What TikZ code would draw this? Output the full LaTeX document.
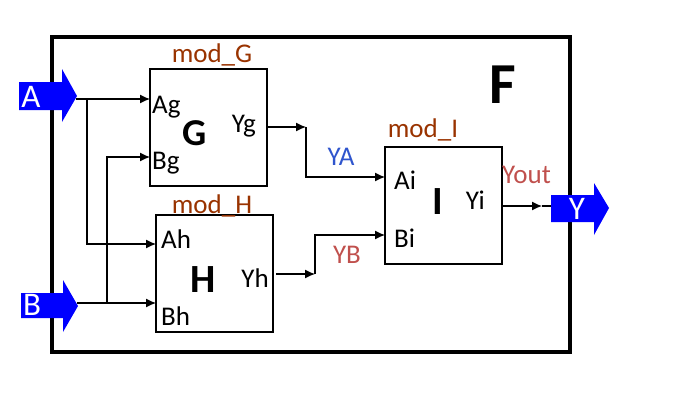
\documentclass[tikz,border=0pt]{standalone}
\usepackage{fontspec}
\setmainfont{Carlito}
\usetikzlibrary{arrows.meta}
\definecolor{modbrown}{RGB}{153,51,0}
\definecolor{sigblue}{RGB}{47,85,205}
\definecolor{sigred}{RGB}{192,80,77}
\definecolor{portblue}{RGB}{0,0,255}
\tikzstyle{module} = [rectangle, minimum width=117pt, minimum height=117pt, draw=black, line width=1.2, inner sep=0]
\tikzstyle{wire} = [draw=black, line width=1.2, -{Latex[length=10pt, width=9pt]}]
\tikzstyle{pinlabel} = [inner sep=0, font=\fontsize{27pt}{30pt}\selectfont]
\tikzstyle{modname} = [pinlabel, text=modbrown, anchor=base]
\tikzstyle{bigname} = [inner sep=0, anchor=base, font=\fontsize{40pt}{44pt}\selectfont\bfseries]
\tikzstyle{portshape} = [fill=portblue, draw=none]
\tikzstyle{portname} = [inner sep=0, text=white, font=\fontsize{33pt}{36pt}\selectfont]

\begin{document}
\begin{tikzpicture}[x=1pt, y=-1pt]
\useasboundingbox (0,0) rectangle (673,400);
\node (modF) [rectangle, draw=black, line width=3.5, minimum width=518pt, minimum height=315pt] at (311,194.5) {};
\node (nameF) [bigname, font=\fontsize{58pt}{60pt}\selectfont\bfseries] at (503,103) {F};

\node (modG) [module] at (208.5,127.5) {};
\node (modH) [module] at (214.5,273.5) {};
\node (modI) [module] at (443.5,205.5) {};

\node (titleG) [modname] at (212,62) {mod\_G};
\node (titleH) [modname] at (212,213) {mod\_H};
\node (titleI) [modname] at (423,137) {mod\_I};

\node (nameG) [bigname, font=\fontsize{38pt}{40pt}\selectfont\bfseries] at (195,145) {G};
\node (nameH) [bigname] at (203,292) {H};
\node (nameI) [bigname] at (438,214) {I};

\node (lblAg) [pinlabel, anchor=base west] at (152,113) {Ag};
\node (lblBg) [pinlabel, anchor=base west] at (152,169) {Bg};
\node (lblYg) [pinlabel, anchor=base east] at (256,132) {Yg};
\node (lblAh) [pinlabel, anchor=base west] at (161,248) {Ah};
\node (lblBh) [pinlabel, anchor=base west] at (161,325) {Bh};
\node (lblYh) [pinlabel, anchor=base east] at (269,287) {Yh};
\node (lblAi) [pinlabel, anchor=base west] at (394,189) {Ai};
\node (lblBi) [pinlabel, anchor=base west] at (394,247) {Bi};
\node (lblYi) [pinlabel, anchor=base east] at (485,209) {Yi};

\node (sigYA) [pinlabel, anchor=base, text=sigblue] at (341,165) {YA};
\node (sigYB) [pinlabel, anchor=base, text=sigred] at (347,263) {YB};
\node (sigYout) [pinlabel, anchor=base west, text=sigred] at (502,183) {Yout};

\fill [portshape] (19,82) -- (62,82) -- (62,69) -- (77,96) -- (62,122) -- (62,110) -- (19,110) -- cycle;
\fill [portshape] (21,293) -- (63,293) -- (63,280) -- (78,306) -- (63,332) -- (63,318) -- (21,318) -- cycle;
\fill [portshape] (551,195) -- (594,195) -- (594,183) -- (609,208) -- (594,235) -- (594,222) -- (551,222) -- cycle;
\node (inA) [portname] at (31,97) {A};
\node (inB) [portname] at (32,305) {B};
\node (outY) [portname] at (577,209) {Y};

\coordinate (aTip) at (76,99);
\coordinate (bTip) at (77,303);
\coordinate (aSplit) at (87,99);
\coordinate (bSplit) at (107,303);
\coordinate (pinAg) at (150,99);
\coordinate (pinBg) at (150,157);
\coordinate (pinYg) at (267,127);
\coordinate (pinAh) at (156,244);
\coordinate (pinBh) at (156,303);
\coordinate (pinYh) at (276,274);
\coordinate (pinAi) at (385,177);
\coordinate (pinBi) at (385,235);
\coordinate (pinYi) at (502,206);
\coordinate (yaBend) at (306,127);
\coordinate (ybBend) at (315,274);
\coordinate (youtTip) at (542,206);
\coordinate (yTail) at (551,206);

\draw [wire] (aTip) -- (pinAg);
\draw [wire] (aSplit) |- (pinAh);
\draw [wire] (bTip) -- (pinBh);
\draw [wire] (bSplit) |- (pinBg);
\draw [wire] (pinYg) -- (yaBend);
\draw [wire] (yaBend) |- (pinAi);
\draw [wire] (pinYh) -- (ybBend);
\draw [wire] (ybBend) |- (pinBi);
\draw [wire] (pinYi) -- (youtTip);
\draw [line width=1.2] (youtTip) -- (yTail);
\end{tikzpicture}
\end{document}
